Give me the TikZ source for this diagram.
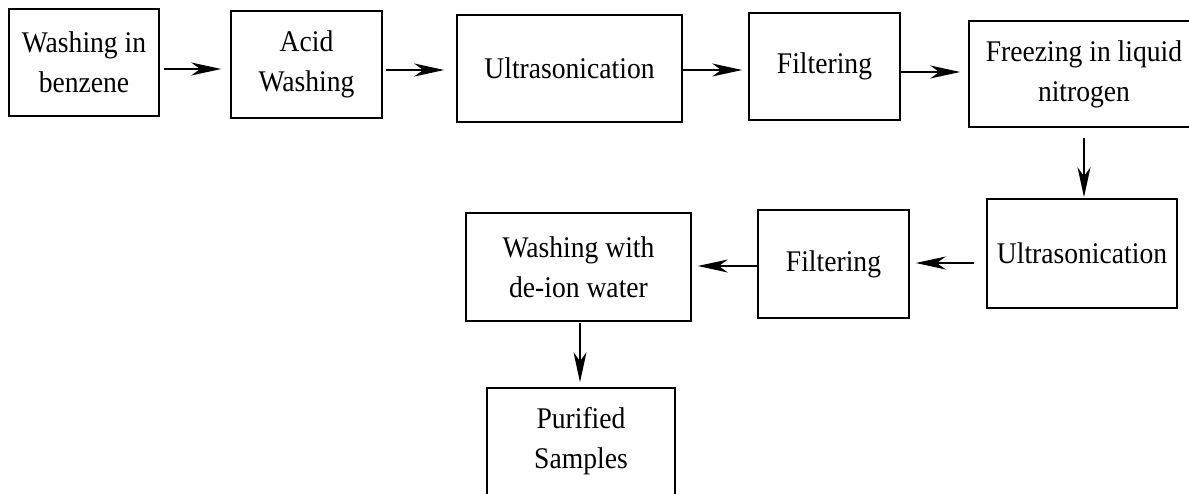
\documentclass[tikz,border=0pt]{standalone}
\usepackage{fontspec}
\setmainfont{Liberation Serif}[FakeStretch=0.92]
\usetikzlibrary{arrows.meta}
\tikzset{
  procbox/.style={draw, line width=1.6pt, inner sep=0pt, align=center,
    font=\fontsize{30}{40}\selectfont},
  flowarrow/.style={line width=1.3pt, -{Stealth[length=30pt, width=13pt, inset=9pt]}}
}
\begin{document}
\begin{tikzpicture}[x=1pt, y=-1pt]
\useasboundingbox (0,0) rectangle (1189,493);
\node[procbox, minimum width=150pt, minimum height=107pt] (b1) at (84,62.5) {Washing in\\benzene};
\node[procbox, minimum width=151pt, minimum height=107pt] (b2) at (306.5,64.5) {Acid\\Washing};
\node[procbox, minimum width=225pt, minimum height=107pt] (b3) at (569.5,68.5) {Ultrasonication};
\node[procbox, minimum width=151pt, minimum height=107pt] (b4) at (824.5,66.5) {Filtering};
\node[procbox, minimum width=230pt, minimum height=106pt] (b5) at (1084,74) {Freezing in liquid\\nitrogen};
\node[procbox, minimum width=190pt, minimum height=109pt] (b6) at (1082,253.5) {Ultrasonication};
\node[procbox, minimum width=151pt, minimum height=108pt] (b7) at (833.5,264) {Filtering};
\node[procbox, minimum width=225pt, minimum height=108pt] (b8) at (578.5,267) {Washing with\\de-ion water};
\node[procbox, minimum width=188pt, minimum height=107pt] (b9) at (581,441.5) {Purified\\Samples};

\draw[flowarrow, shorten <=4pt, shorten >=9pt] (b1.east |- 0,69) -- (b2.west |- 0,69);
\draw[flowarrow, shorten <=3pt, shorten >=12pt] (b2.east |- 0,70) -- (b3.west |- 0,70);
\draw[flowarrow, shorten >=6pt] (b3.east |- 0,70) -- (b4.west |- 0,70);
\draw[flowarrow, shorten >=8pt] (b4.east |- 0,72) -- (b5.west |- 0,72);
\draw[flowarrow, shorten <=10pt, shorten >=1pt] (b5.south) -- (b5.south |- b6.north);
\draw[flowarrow, shorten <=12pt, shorten >=6pt] (b6.west |- 0,263) -- (b7.east |- 0,263);
\draw[flowarrow, shorten >=6pt] (b7.west |- 0,266) -- (b8.east |- 0,266);
\draw[flowarrow, shorten <=1pt, shorten >=5pt] (b8.south -| 580,0) -- (b9.north -| 580,0);
\end{tikzpicture}
\end{document}
